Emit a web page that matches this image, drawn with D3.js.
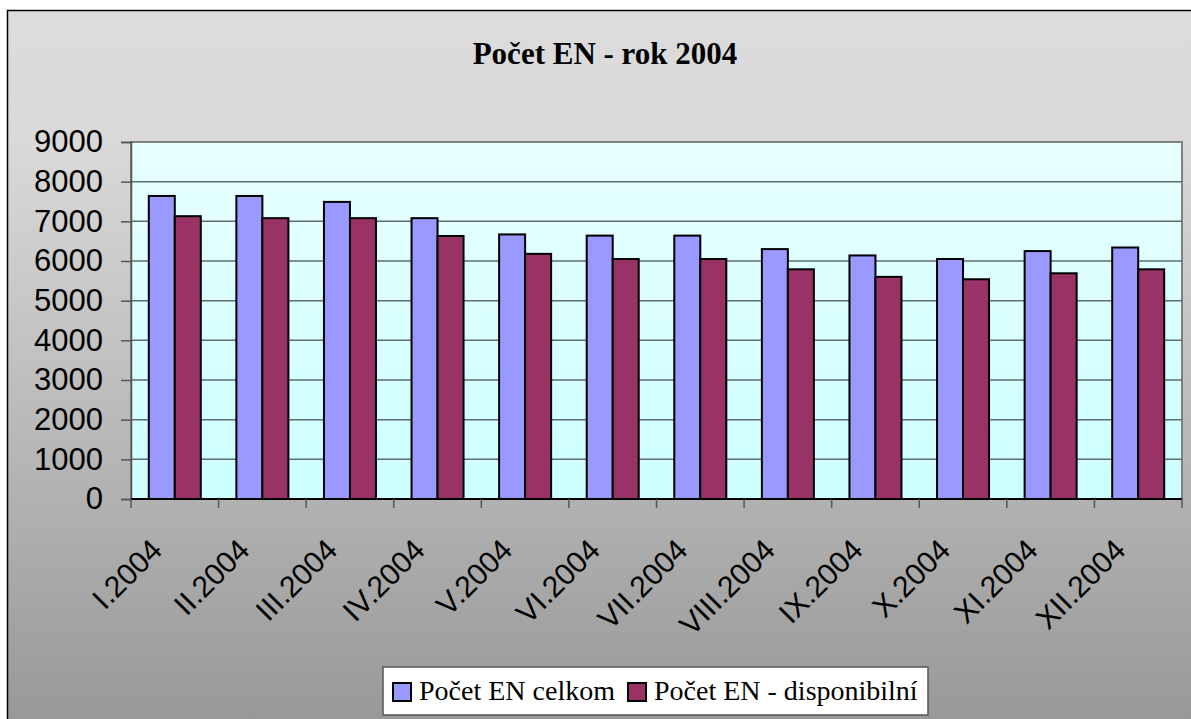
<!DOCTYPE html>
<html>
<head>
<meta charset="utf-8">
<script src="https://cdn.jsdelivr.net/npm/d3@7"></script>
<style>
  body { margin: 0; background: #fff; }
  svg { display: block; }
</style>
</head>
<body>
<svg id="chart"></svg>
<script>
const width = 1191,
  height = 719;

// chart data
const months = ["I.2004", "II.2004", "III.2004", "IV.2004", "V.2004", "VI.2004",
  "VII.2004", "VIII.2004", "IX.2004", "X.2004", "XI.2004", "XII.2004"];
const series = ["Počet EN celkom", "Počet EN - disponibilní"];
const celkom = [7640, 7640, 7490, 7080, 6670, 6640, 6640, 6300, 6140, 6050, 6250, 6340];
const disponibilni = [7130, 7080, 7080, 6630, 6180, 6050, 6050, 5790, 5600, 5540, 5690, 5790];
const yTicks = [0, 1000, 2000, 3000, 4000, 5000, 6000, 7000, 8000, 9000];
const colors = ["#9999ff", "#993366"];

const svg = d3.select("#chart").attr("width", width).attr("height", height);

const plot = { left: 131, right: 1182, top: 142, bottom: 499 };

const defs = svg.append("defs");
// outer chart background
const bg = defs.append("linearGradient").attr("id", "bg")
  .attr("x1", 0).attr("y1", 0).attr("x2", 0).attr("y2", 1);
bg.append("stop").attr("offset", 0).attr("stop-color", "#dcdcdc");
bg.append("stop").attr("offset", 0.18).attr("stop-color", "#d9d9d9");
bg.append("stop").attr("offset", 1).attr("stop-color", "#959595");
// plot area background
const pg = defs.append("linearGradient").attr("id", "pg")
  .attr("x1", 0).attr("y1", 0).attr("x2", 0).attr("y2", 1);
pg.append("stop").attr("offset", 0).attr("stop-color", "#e8ffff");
pg.append("stop").attr("offset", 1).attr("stop-color", "#ccffff");

svg.append("rect")
  .attr("x", 7.5).attr("y", 10.5)
  .attr("width", 1200).attr("height", 740)
  .attr("fill", "url(#bg)")
  .attr("stroke", "#000").attr("stroke-width", 1.5);

// title
svg.append("text")
  .attr("x", 605).attr("y", 64)
  .attr("text-anchor", "middle")
  .style("font-family", "'Liberation Serif', 'Times New Roman', serif")
  .style("font-weight", "bold")
  .style("font-size", "31px")
  .text("Počet EN - rok 2004");

const x = d3.scaleBand().domain(months).range([plot.left, plot.right]);
const x1 = d3.scaleBand().domain(series).range([0, x.bandwidth()]).paddingOuter(0.684);
const y = d3.scaleLinear().domain([0, 9000]).range([plot.bottom, plot.top]);

svg.append("rect")
  .attr("x", plot.left).attr("y", plot.top)
  .attr("width", plot.right - plot.left).attr("height", plot.bottom - plot.top)
  .attr("fill", "url(#pg)")
  .attr("stroke", "#808080").attr("stroke-width", 2);

// gridlines
svg.append("g")
  .selectAll("line")
  .data(yTicks.filter(d => d > 0 && d < 9000))
  .join("line")
  .attr("x1", plot.left).attr("x2", plot.right)
  .attr("y1", d => y(d)).attr("y2", d => y(d))
  .attr("stroke", "#5e6e6e").attr("stroke-width", 1.5);

// bars
const rows = months.map((m, i) => ({ month: m, values: [celkom[i], disponibilni[i]] }));
svg.append("g")
  .selectAll("g")
  .data(rows)
  .join("g")
  .attr("transform", d => `translate(${x(d.month)},0)`)
  .selectAll("rect")
  .data(d => d.values.map((v, j) => ({ key: series[j], value: v, color: colors[j] })))
  .join("rect")
  .attr("x", d => x1(d.key))
  .attr("y", d => y(d.value))
  .attr("width", x1.bandwidth())
  .attr("height", d => y(0) - y(d.value))
  .attr("fill", d => d.color)
  .attr("stroke", "#000").attr("stroke-width", 2);

// y axis
const yAxis = svg.append("g")
  .attr("transform", `translate(${plot.left},0)`)
  .call(d3.axisLeft(y).tickValues(yTicks).tickSize(10).tickPadding(18).tickFormat(d3.format("d")));
yAxis.select(".domain").attr("stroke", "#555").attr("stroke-width", 1.5);
yAxis.selectAll(".tick line").attr("stroke", "#555").attr("stroke-width", 1.5);
yAxis.selectAll("text")
  .style("font-family", "'Liberation Sans', Arial, sans-serif")
  .style("font-size", "31px")
  .attr("fill", "#000");

// x axis, ticks at category boundaries
const xAxis = svg.append("g").attr("transform", `translate(0,${plot.bottom})`);
xAxis.append("line")
  .attr("x1", plot.left).attr("x2", plot.right)
  .attr("stroke", "#000").attr("stroke-width", 2);
xAxis.selectAll(".tk")
  .data(months.concat([null]))
  .join("line")
  .attr("class", "tk")
  .attr("x1", (d, i) => plot.left + i * x.step())
  .attr("x2", (d, i) => plot.left + i * x.step())
  .attr("y1", 0).attr("y2", 9)
  .attr("stroke", "#555").attr("stroke-width", 1.5);
xAxis.selectAll("text")
  .data(months)
  .join("text")
  .attr("text-anchor", "end")
  .attr("transform", d => `translate(${x(d) + x.bandwidth() / 2 - 11},53) rotate(-45)`)
  .style("font-family", "'Liberation Sans', Arial, sans-serif")
  .style("font-size", "30px")
  .text(d => d);

// legend
const legend = svg.append("g");
legend.append("rect")
  .attr("x", 383).attr("y", 667)
  .attr("width", 545).attr("height", 48)
  .attr("fill", "#fff").attr("stroke", "#555").attr("stroke-width", 1.5);
const legX = [393, 628];
series.forEach((s, i) => {
  legend.append("rect")
    .attr("x", legX[i]).attr("y", 683)
    .attr("width", 18).attr("height", 18)
    .attr("fill", colors[i]).attr("stroke", "#000").attr("stroke-width", 2);
  legend.append("text")
    .attr("x", legX[i] + 26).attr("y", 700)
    .style("font-family", "'Liberation Serif', 'Times New Roman', serif")
    .style("font-size", "28px")
    .text(s);
});
</script>
</body>
</html>
